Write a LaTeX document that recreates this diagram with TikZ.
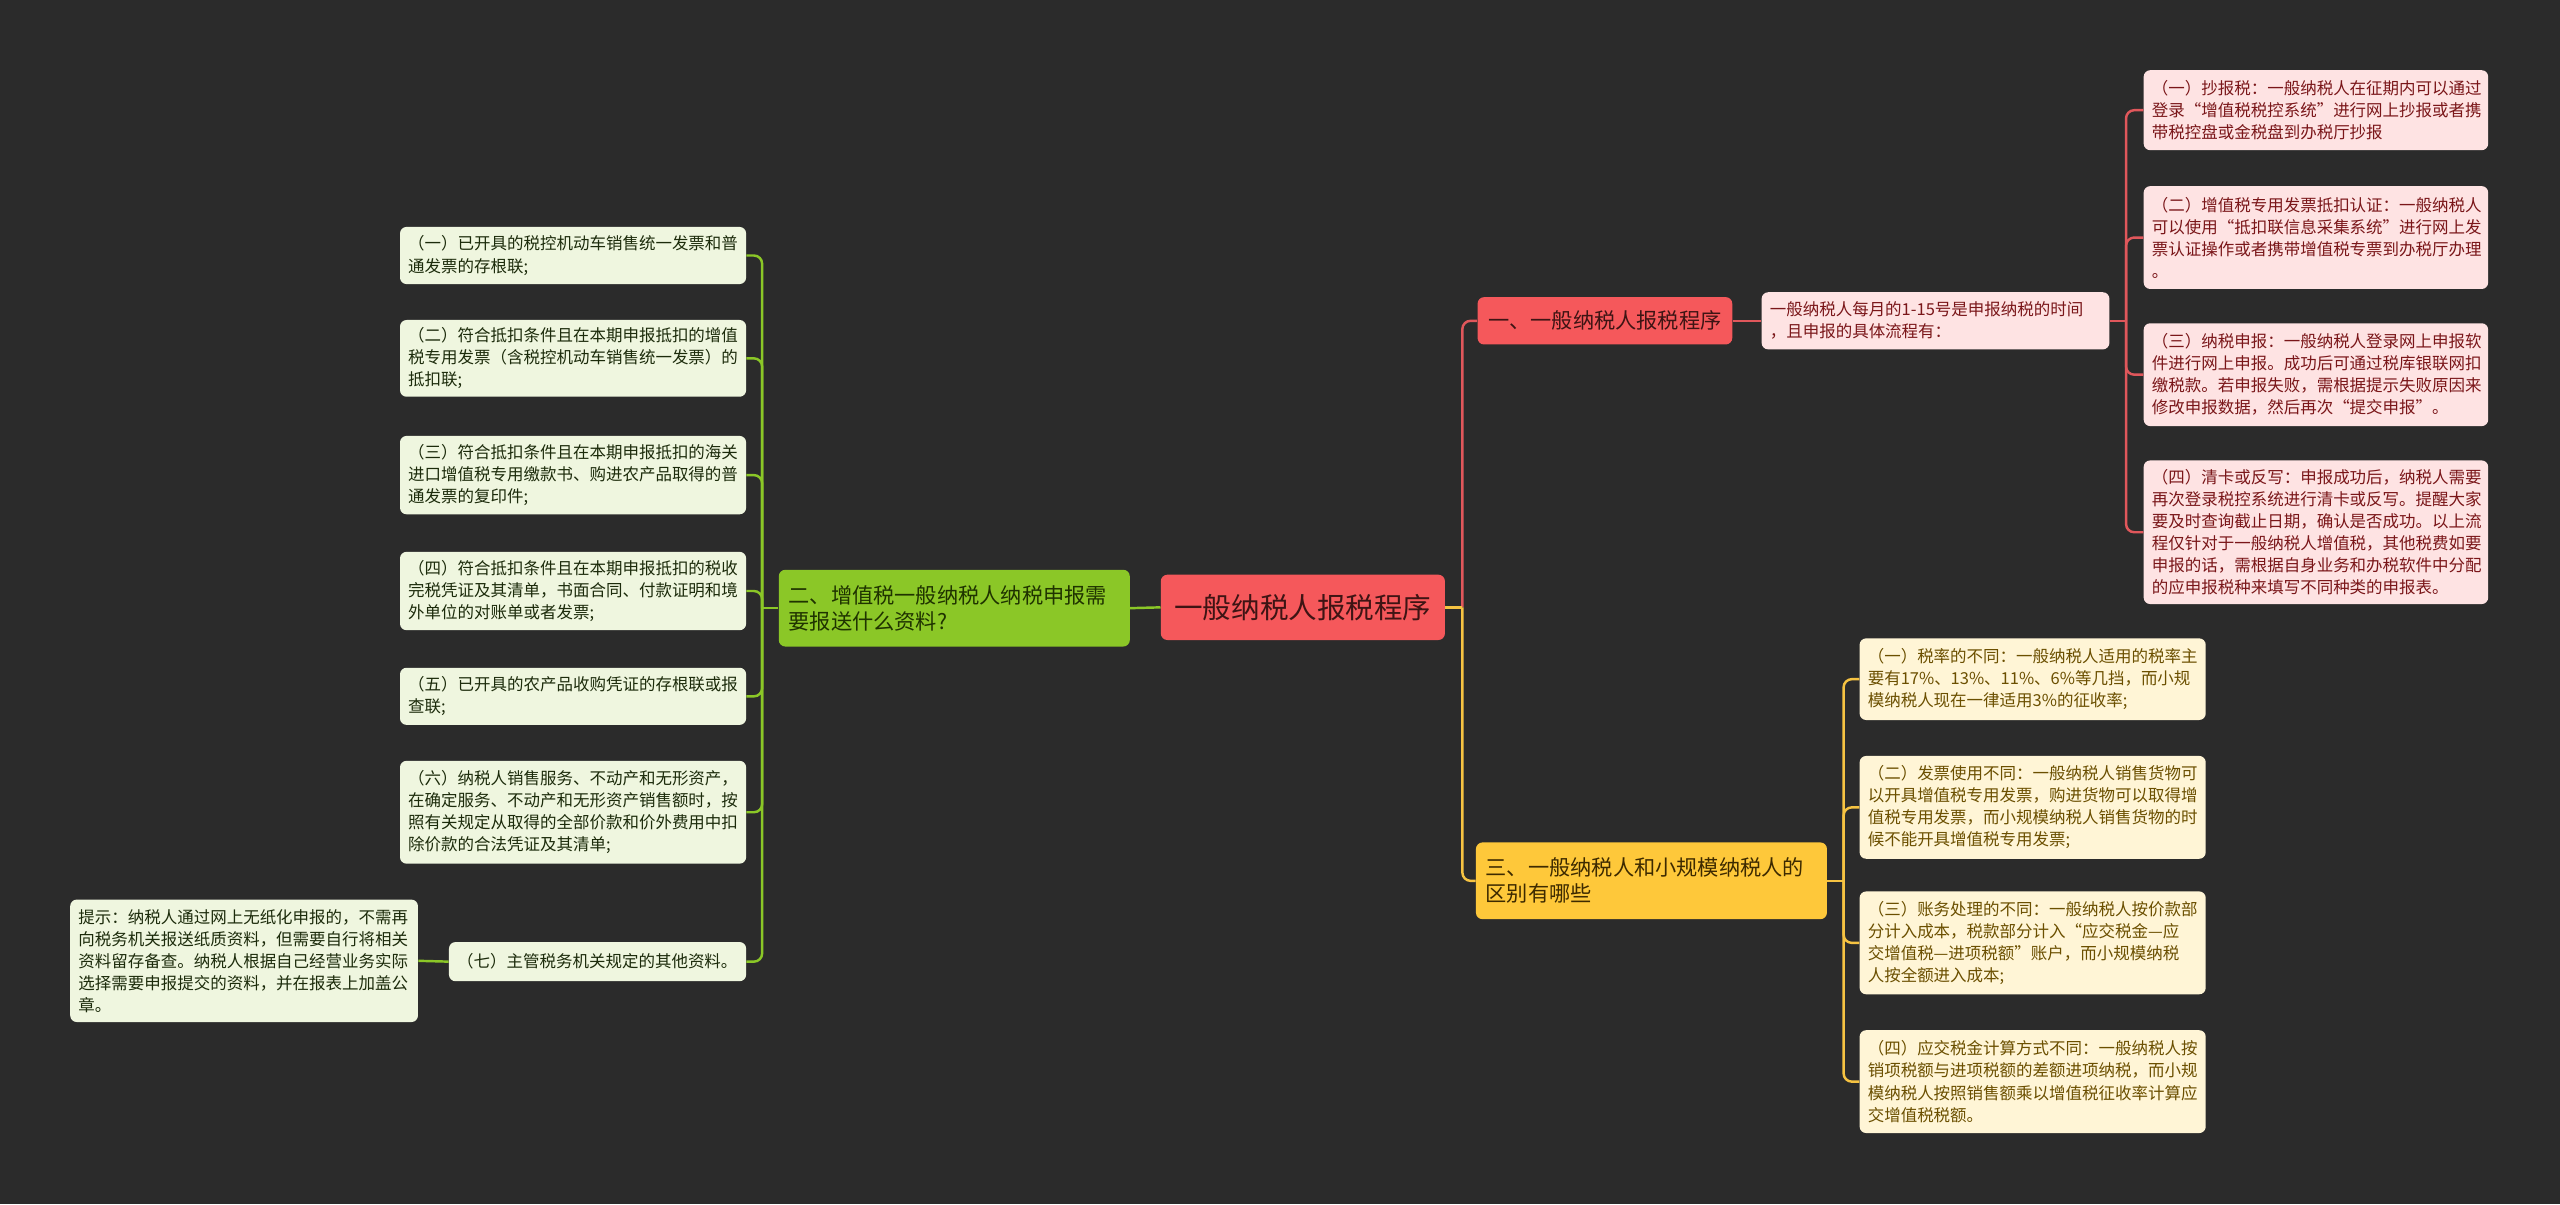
\documentclass[tikz,border=0pt]{standalone}
\usepackage{fontspec}
\setmainfont{Noto Sans CJK SC}
\usetikzlibrary{positioning}

\definecolor{bgdark}{HTML}{2B2B2B}
\definecolor{rootred}{HTML}{F5585B}
\definecolor{redtext}{HTML}{3E1414}
\definecolor{pinkfill}{HTML}{FEE3E3}
\definecolor{pinktext}{HTML}{7A1619}
\definecolor{redline}{HTML}{E0575B}
\definecolor{greenfill}{HTML}{8BC727}
\definecolor{greentext}{HTML}{1F3300}
\definecolor{gleaffill}{HTML}{EFF6DF}
\definecolor{gleaftext}{HTML}{1C2B0B}
\definecolor{yellowfill}{HTML}{FEC83A}
\definecolor{yellowtext}{HTML}{3D2A00}
\definecolor{yleaffill}{HTML}{FFF5D6}
\definecolor{yleaftext}{HTML}{6B4F00}
\definecolor{yellowline}{HTML}{F6C342}

\begin{document}
\begin{tikzpicture}[x=1pt,y=-1pt,
  box/.style={rounded corners=4pt,inner xsep=5pt,inner ysep=2pt,align=left,
    font=\fontsize{10.1pt}{13.5pt}\selectfont},
  gleaf/.style={box,fill=gleaffill,text=gleaftext,text width=202pt},
  rleaf/.style={box,fill=pinkfill,text=pinktext,text width=201pt},
  yleaf/.style={box,fill=yleaffill,text=yleaftext,text width=202pt},
  branch/.style={rounded corners=4pt,inner xsep=6pt,inner ysep=2pt,align=left,
    font=\fontsize{13pt}{16pt}\selectfont},
  gline/.style={greenfill,line width=1.5pt},
  rline/.style={redline,line width=1.5pt},
  yline/.style={yellowline,line width=1.5pt}]
\fill[bgdark] (0,0) rectangle (1568,737.5);
\useasboundingbox (0,0) rectangle (1568,737.5);

% centre
\node[rounded corners=4pt,fill=rootred,text=redtext,minimum width=174pt,minimum height=40pt,
  font=\fontsize{17.5pt}{20pt}\selectfont] (root) at (798,372) {一般纳税人报税程序};

% left branch
\node[branch,fill=greenfill,text=greentext,text width=203pt,minimum height=47pt] (g0) at (584.5,372.5)
  {二、增值税一般纳税人纳税申报需\\要报送什么资料?};
\node[gleaf,minimum height=35pt] (gl1) at (351,156.5) {（一）已开具的税控机动车销售统一发票和普\\通发票的存根联;};
\node[gleaf,minimum height=47pt] (gl2) at (351,219.5) {（二）符合抵扣条件且在本期申报抵扣的增值\\税专用发票（含税控机动车销售统一发票）的\\抵扣联;};
\node[gleaf,minimum height=48pt] (gl3) at (351,291) {（三）符合抵扣条件且在本期申报抵扣的海关\\进口增值税专用缴款书、购进农产品取得的普\\通发票的复印件;};
\node[gleaf,minimum height=48pt] (gl4) at (351,362) {（四）符合抵扣条件且在本期申报抵扣的税收\\完税凭证及其清单，书面合同、付款证明和境\\外单位的对账单或者发票;};
\node[gleaf,minimum height=35pt] (gl5) at (351,426.5) {（五）已开具的农产品收购凭证的存根联或报\\查联;};
\node[gleaf,minimum height=63pt] (gl6) at (351,497.5) {（六）纳税人销售服务、不动产和无形资产，\\在确定服务、不动产和无形资产销售额时，按\\照有关规定从取得的全部价款和价外费用中扣\\除价款的合法凭证及其清单;};
\node[gleaf,text width=172pt,minimum height=24pt] (gl7) at (366,589) {（七）主管税务机关规定的其他资料。};
\node[gleaf,text width=203pt,minimum height=75pt] (tip) at (149.5,588.5) {提示：纳税人通过网上无纸化申报的，不需再\\向税务机关报送纸质资料，但需要自行将相关\\资料留存备查。纳税人根据自己经营业务实际\\选择需要申报提交的资料，并在报表上加盖公\\章。};

% right branch, part one
\node[branch,fill=rootred,text=redtext,minimum width=156pt,minimum height=29pt] (r0) at (983,196.5) {一、一般纳税人报税程序};
\node[rleaf,text width=203pt,minimum height=35pt] (rmid) at (1185.5,196.5) {一般纳税人每月的1-15号是申报纳税的时间\\，且申报的具体流程有：};
\node[rleaf,minimum height=49pt] (rl1) at (1418.5,67.5) {（一）抄报税：一般纳税人在征期内可以通过\\登录“增值税税控系统”进行网上抄报或者携\\带税控盘或金税盘到办税厅抄报};
\node[rleaf,minimum height=63pt] (rl2) at (1418.5,145.5) {（二）增值税专用发票抵扣认证：一般纳税人\\可以使用“抵扣联信息采集系统”进行网上发\\票认证操作或者携带增值税专票到办税厅办理\\。};
\node[rleaf,minimum height=63pt] (rl3) at (1418.5,229.5) {（三）纳税申报：一般纳税人登录网上申报软\\件进行网上申报。成功后可通过税库银联网扣\\缴税款。若申报失败，需根据提示失败原因来\\修改申报数据，然后再次“提交申报”。};
\node[rleaf,minimum height=88pt] (rl4) at (1418.5,326) {（四）清卡或反写：申报成功后，纳税人需要\\再次登录税控系统进行清卡或反写。提醒大家\\要及时查询截止日期，确认是否成功。以上流\\程仅针对于一般纳税人增值税，其他税费如要\\申报的话，需根据自身业务和办税软件中分配\\的应申报税种来填写不同种类的申报表。};

% right branch, part three
\node[branch,fill=yellowfill,text=yellowtext,text width=203pt,minimum height=47pt] (y0) at (1011.5,539.5)
  {三、一般纳税人和小规模纳税人的\\区别有哪些};
\node[yleaf,minimum height=50pt] (yl1) at (1245,416) {（一）税率的不同：一般纳税人适用的税率主\\要有17\%、13\%、11\%、6\%等几挡，而小规\\模纳税人现在一律适用3\%的征收率;};
\node[yleaf,minimum height=63pt] (yl2) at (1245,494.5) {（二）发票使用不同：一般纳税人销售货物可\\以开具增值税专用发票，购进货物可以取得增\\值税专用发票，而小规模纳税人销售货物的时\\候不能开具增值税专用发票;};
\node[yleaf,minimum height=63pt] (yl3) at (1245,577.5) {（三）账务处理的不同：一般纳税人按价款部\\分计入成本，税款部分计入“应交税金—应\\交增值税—进项税额”账户，而小规模纳税\\人按全额进入成本;};
\node[yleaf,minimum height=63pt] (yl4) at (1245,662.5) {（四）应交税金计算方式不同：一般纳税人按\\销项税额与进项税额的差额进项纳税，而小规\\模纳税人按照销售额乘以增值税征收率计算应\\交增值税税额。};

% connectors
\coordinate[left=10pt of g0.west] (gtrunk);
\coordinate[right=10.5pt of root.east] (rtrunk);
\coordinate[right=10pt of rmid.east] (ptrunk);
\coordinate[right=10pt of y0.east] (ytrunk);

\draw[gline] (root.west) -- (g0.east);
\draw[gline] (g0.west) -- (gtrunk);
\foreach \n in {gl1,gl2,gl3,gl4,gl5,gl6,gl7}
  \draw[gline,rounded corners=5pt] (gtrunk) |- (\n.east);
\draw[gline] (gl7.west) -- (tip.east);

\draw[rline,rounded corners=5pt] (rtrunk) |- (r0.west);
\draw[yline,rounded corners=5pt] (rtrunk) |- (y0.west);
\draw[yline] (root.east) -- (rtrunk);

\draw[rline] (r0.east) -- (rmid.west);
\draw[rline] (rmid.east) -- (ptrunk);
\foreach \n in {rl1,rl2,rl3,rl4}
  \draw[rline,rounded corners=5pt] (ptrunk) |- (\n.west);

\draw[yline] (y0.east) -- (ytrunk);
\foreach \n in {yl1,yl2,yl3,yl4}
  \draw[yline,rounded corners=5pt] (ytrunk) |- (\n.west);
\end{tikzpicture}
\end{document}
